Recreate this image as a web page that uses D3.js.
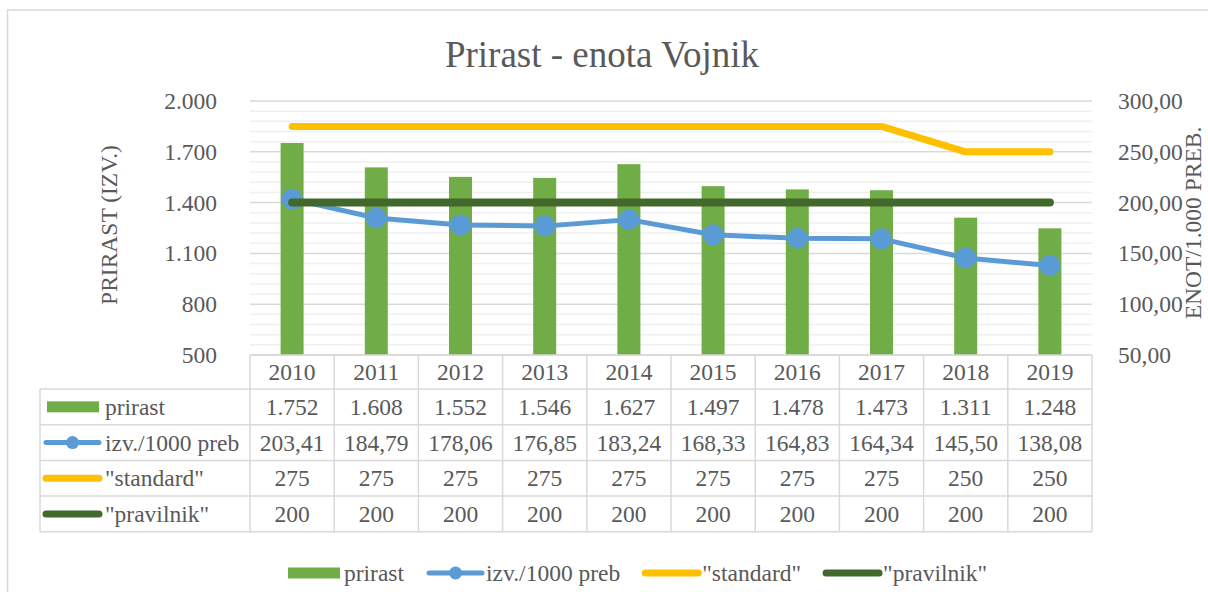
<!DOCTYPE html>
<html>
<head>
<meta charset="utf-8">
<script src="https://cdn.jsdelivr.net/npm/d3@7"></script>
<style>
  body { margin: 0; background: #fff; }
  svg { display: block; }
  text { font-family: "Liberation Serif", "Times New Roman", serif; fill: #595959; }
</style>
</head>
<body>
<div id="chart"></div>
<script>
// data
const years = ["2010","2011","2012","2013","2014","2015","2016","2017","2018","2019"];
const prirast = [1752, 1608, 1552, 1546, 1627, 1497, 1478, 1473, 1311, 1248];
const izv = [203.41, 184.79, 178.06, 176.85, 183.24, 168.33, 164.83, 164.34, 145.50, 138.08];
const standard = [275, 275, 275, 275, 275, 275, 275, 275, 250, 250];
const pravilnik = [200, 200, 200, 200, 200, 200, 200, 200, 200, 200];
const leftTicks = [500, 800, 1100, 1400, 1700, 2000];
const rightTicks = [50, 100, 150, 200, 250, 300];
const seriesNames = ["prirast", "izv./1000 preb", "\"standard\"", "\"pravilnik\""];
const titleText = "Prirast - enota Vojnik";
const leftTitle = "PRIRAST (IZV.)";
const rightTitle = "ENOT/1.000 PREB.";

const width = 1208, height = 592;
const plot = {left: 250, right: 1092, top: 101, bottom: 355};
const fontSize = 23.5;
const colors = {bar: "#70ad47", izv: "#5b9bd5", standard: "#ffc000", pravilnik: "#43682b"};
const gridMajor = "#d9d9d9", gridMinor = "#f0f0f0";

const loc = d3.formatLocale({decimal: ",", thousands: ".", grouping: [3], currency: ["", "€"]});
const fmtInt = loc.format(",d");
const fmtDec = loc.format(",.2f");

const svg = d3.select("#chart").append("svg")
  .attr("width", width)
  .attr("height", height);

// chart border
svg.append("rect")
  .attr("x", 7.5).attr("y", 10)
  .attr("width", 1400).attr("height", 800)
  .attr("fill", "#fff")
  .attr("stroke", gridMajor).attr("stroke-width", 1.5);

// title
svg.append("text")
  .attr("x", 602).attr("y", 67)
  .attr("text-anchor", "middle")
  .style("font-size", "37px")
  .text(titleText);

const x = d3.scaleBand().domain(years).range([plot.left, plot.right]).padding(0);
const yL = d3.scaleLinear().domain([500, 2000]).range([plot.bottom, plot.top]);
const yR = d3.scaleLinear().domain([50, 300]).range([plot.bottom, plot.top]);

// gridlines: minor every 60 (left), major every 300
const minor = d3.range(500, 2001, 60).filter(v => !leftTicks.includes(v));
svg.append("g").selectAll("line").data(minor).enter().append("line")
  .attr("x1", plot.left).attr("x2", plot.right)
  .attr("y1", d => yL(d)).attr("y2", d => yL(d))
  .attr("stroke", gridMinor).attr("stroke-width", 1.5);
svg.append("g").selectAll("line").data(leftTicks).enter().append("line")
  .attr("x1", plot.left).attr("x2", plot.right)
  .attr("y1", d => yL(d)).attr("y2", d => yL(d))
  .attr("stroke", gridMajor).attr("stroke-width", 1.5);

// axes (labels only)
const gl = svg.append("g")
  .attr("transform", `translate(${plot.left - 33},0)`)
  .call(d3.axisLeft(yL).tickValues(leftTicks).tickFormat(fmtInt).tickSize(0).tickPadding(0));
const gr = svg.append("g")
  .attr("transform", `translate(${plot.right + 26},0)`)
  .call(d3.axisRight(yR).tickValues(rightTicks).tickFormat(fmtDec).tickSize(0).tickPadding(0));
[gl, gr].forEach(g => {
  g.select(".domain").remove();
  g.selectAll("text").attr("fill", "#595959")
    .style("font-family", "\"Liberation Serif\", \"Times New Roman\", serif")
    .style("font-size", fontSize + "px");
});

// axis titles
svg.append("text")
  .attr("transform", `translate(117,${(plot.top + plot.bottom) / 2 - 3}) rotate(-90)`)
  .attr("text-anchor", "middle")
  .style("font-size", fontSize + "px")
  .text(leftTitle);
svg.append("text")
  .attr("transform", `translate(1201,${(plot.top + plot.bottom) / 2 - 5}) rotate(-90)`)
  .attr("text-anchor", "middle")
  .style("font-size", fontSize + "px")
  .text(rightTitle);

// bars
const barW = 23;
svg.append("g").selectAll("rect").data(prirast).enter().append("rect")
  .attr("x", (d, i) => x(years[i]) + x.bandwidth() / 2 - barW / 2)
  .attr("width", barW)
  .attr("y", d => yL(d))
  .attr("height", d => yL(500) - yL(d))
  .attr("fill", colors.bar);

const cx = (d, i) => x(years[i]) + x.bandwidth() / 2;
const line = d3.line().x(cx).y(d => yR(d));

// izv. line + markers
svg.append("path").datum(izv)
  .attr("d", line).attr("fill", "none")
  .attr("stroke", colors.izv).attr("stroke-width", 5)
  .attr("stroke-linejoin", "round").attr("stroke-linecap", "round");
svg.append("g").selectAll("circle").data(izv).enter().append("circle")
  .attr("cx", cx).attr("cy", d => yR(d)).attr("r", 10.5)
  .attr("fill", colors.izv);

svg.append("path").datum(standard)
  .attr("d", line).attr("fill", "none")
  .attr("stroke", colors.standard).attr("stroke-width", 7)
  .attr("stroke-linejoin", "round").attr("stroke-linecap", "round");

svg.append("path").datum(pravilnik)
  .attr("d", line).attr("fill", "none")
  .attr("stroke", colors.pravilnik).attr("stroke-width", 8)
  .attr("stroke-linejoin", "round").attr("stroke-linecap", "round");

// data table
const headTop = plot.bottom, headBot = 389;
const rowH = 35.7;
const tableLeft = 40;
const rows = [
  {name: seriesNames[0], values: prirast.map(fmtInt), key: "bar", color: colors.bar},
  {name: seriesNames[1], values: izv.map(fmtDec), key: "marker", color: colors.izv},
  {name: seriesNames[2], values: standard.map(String), key: "line", color: colors.standard},
  {name: seriesNames[3], values: pravilnik.map(String), key: "line", color: colors.pravilnik}
];
const tableBottom = headBot + rowH * rows.length;
const tbl = svg.append("g");
function hline(x1, x2, yy) {
  tbl.append("line").attr("x1", x1).attr("x2", x2).attr("y1", yy).attr("y2", yy)
    .attr("stroke", gridMajor).attr("stroke-width", 1.5);
}
function vline(xx, y1, y2) {
  tbl.append("line").attr("x1", xx).attr("x2", xx).attr("y1", y1).attr("y2", y2)
    .attr("stroke", gridMajor).attr("stroke-width", 1.5);
}
hline(plot.left, plot.right, headTop);
hline(tableLeft, plot.right, headBot);
rows.forEach((r, i) => hline(tableLeft, plot.right, headBot + rowH * (i + 1)));
vline(tableLeft, headBot, tableBottom);
years.forEach(yr => vline(x(yr), headTop, tableBottom));
vline(plot.right, headTop, tableBottom);

// header years
tbl.selectAll("text.yr").data(years).enter().append("text")
  .attr("x", d => x(d) + x.bandwidth() / 2)
  .attr("y", (headTop + headBot) / 2 + 8)
  .attr("text-anchor", "middle")
  .style("font-size", fontSize + "px")
  .text(d => d);

function drawKey(g, r, x0, yc, w) {
  if (r.key === "bar") {
    g.append("rect").attr("x", x0 + 4).attr("y", yc - 5.5).attr("width", w - 7).attr("height", 11)
      .attr("fill", r.color);
  } else {
    g.append("line").attr("x1", x0 + 3).attr("x2", x0 + w - 3).attr("y1", yc).attr("y2", yc)
      .attr("stroke", r.color).attr("stroke-width", r.key === "marker" ? 5 : 7)
      .attr("stroke-linecap", "round");
    if (r.key === "marker") {
      g.append("circle").attr("cx", x0 + w / 2).attr("cy", yc).attr("r", 6.5).attr("fill", r.color);
    }
  }
}

rows.forEach((r, i) => {
  const yc = headBot + rowH * i + rowH / 2;
  drawKey(tbl, r, 43, yc, 59);
  tbl.append("text").attr("x", 105).attr("y", yc + 8)
    .style("font-size", fontSize + "px").text(r.name);
  r.values.forEach((v, j) => {
    tbl.append("text")
      .attr("x", x(years[j]) + x.bandwidth() / 2)
      .attr("y", yc + 8)
      .attr("text-anchor", "middle")
      .style("font-size", fontSize + "px")
      .text(v);
  });
});

// bottom legend
const leg = svg.append("g");
let lx = 284;
const ly = 573;
rows.forEach(r => {
  drawKey(leg, r, lx, ly, 59);
  const t = leg.append("text").attr("x", lx + 60).attr("y", ly + 8)
    .style("font-size", fontSize + "px").text(r.name);
  lx += 60 + t.node().getComputedTextLength() + 22;
});
</script>
</body>
</html>
